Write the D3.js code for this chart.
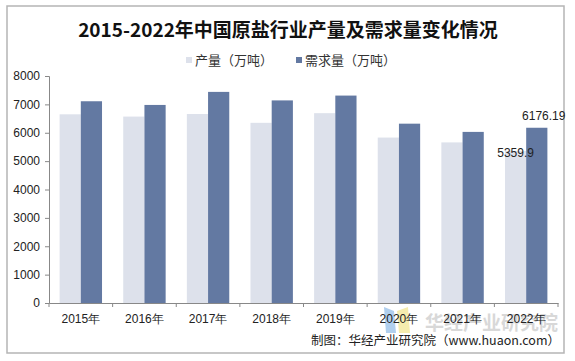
<!DOCTYPE html>
<html>
<head>
<meta charset="utf-8">
<script src="https://cdn.jsdelivr.net/npm/d3@7"></script>
<style>
  body { margin: 0; background: #fff; }
  svg { display: block; font-family: Arial, "Liberation Sans", "Noto Sans CJK SC", sans-serif; }
</style>
</head>
<body>
<svg id="chart" width="575" height="361"></svg>
<script>
const years = ["2015年", "2016年", "2017年", "2018年", "2019年", "2020年", "2021年", "2022年"];
const production = [6650, 6570, 6660, 6350, 6690, 5830, 5660, 5359.9];
const demand = [7110, 6980, 7440, 7140, 7310, 6320, 6030, 6176.19];
const yTicks = [0, 1000, 2000, 3000, 4000, 5000, 6000, 7000, 8000];
const seriesNames = ["产量（万吨）", "需求量（万吨）"];
const colors = ["#dde1eb", "#6379a2"];

const svg = d3.select("#chart");
const margin = { top: 76, right: 17, bottom: 58, left: 49 };
const width = 575, height = 361;
const chartWidth = width - margin.left - margin.right;
const chartHeight = height - margin.top - margin.bottom;

// outer frame
svg.append("rect")
    .attr("x", 7).attr("y", 6)
    .attr("width", 557).attr("height", 347)
    .attr("fill", "none")
    .attr("stroke", "#b5b5b5")
    .attr("stroke-width", 1.5);

// watermark (logo + name) drawn first so it stays behind
svg.append("polygon")
    .attr("points", "384,307 394,311 396,333 386,333")
    .attr("fill", "#9cc3ea").attr("opacity", 0.8);
svg.append("polygon")
    .attr("points", "397,311 408,307 410,333 399,333")
    .attr("fill", "#f3e79a").attr("opacity", 0.8);
svg.append("text")
    .attr("x", 558).attr("y", 330)
    .attr("text-anchor", "end")
    .style("font-family", "'Noto Sans CJK SC', sans-serif")
    .style("font-weight", "bold")
    .style("font-size", "19px")
    .attr("fill", "#cccccc")
    .attr("opacity", 0.75)
    .text("华经产业研究院");

// title
svg.append("text")
    .attr("x", 288).attr("y", 37)
    .attr("text-anchor", "middle")
    .style("font-family", "'Noto Sans CJK SC', sans-serif")
    .style("font-weight", "bold")
    .style("font-size", "19px")
    .attr("fill", "#111")
    .text("2015-2022年中国原盐行业产量及需求量变化情况");

// legend
const legendX = [186, 296];
seriesNames.forEach((name, i) => {
    svg.append("rect")
        .attr("x", legendX[i]).attr("y", 57)
        .attr("width", 6).attr("height", 6)
        .attr("fill", colors[i]);
    svg.append("text")
        .attr("x", legendX[i] + 9).attr("y", 65)
        .style("font-family", "'Noto Sans CJK SC', sans-serif")
        .style("font-size", "13px")
        .attr("fill", "#333")
        .text(name);
});

const g = svg.append("g")
    .attr("transform", `translate(${margin.left},${margin.top})`);

const x = d3.scaleBand()
    .domain(years)
    .range([0, chartWidth])
    .paddingInner(0)
    .paddingOuter(0);

const bandPad = x.bandwidth() / 6;
const x1 = d3.scaleBand()
    .domain([0, 1])
    .range([bandPad, x.bandwidth() - bandPad]);

const y = d3.scaleLinear()
    .domain([0, 8000])
    .range([chartHeight, 0]);

// bars
const groups = g.selectAll(".year")
    .data(years)
    .enter()
    .append("g")
    .attr("transform", d => `translate(${x(d)},0)`);

groups.append("rect")
    .attr("x", x1(0))
    .attr("width", x1.bandwidth())
    .attr("y", (d, i) => y(production[i]))
    .attr("height", (d, i) => chartHeight - y(production[i]))
    .attr("fill", colors[0]);

groups.append("rect")
    .attr("x", x1(1))
    .attr("width", x1.bandwidth())
    .attr("y", (d, i) => y(demand[i]))
    .attr("height", (d, i) => chartHeight - y(demand[i]))
    .attr("fill", colors[1]);

// data labels for last year
const last = years.length - 1;
g.append("text")
    .attr("x", x(years[last]) + x1(0) + x1.bandwidth() / 2)
    .attr("y", y(production[last]) + 6)
    .attr("text-anchor", "middle")
    .style("font-size", "12px")
    .attr("fill", "#222")
    .text(production[last]);

g.append("text")
    .attr("x", x(years[last]) + x1(1) + x1.bandwidth() / 2 + 7)
    .attr("y", y(demand[last]) - 8)
    .attr("text-anchor", "middle")
    .style("font-size", "12px")
    .attr("fill", "#222")
    .text(demand[last]);

// y axis
const yAxis = g.append("g")
    .call(d3.axisLeft(y).tickValues(yTicks).tickFormat(d3.format("d")).tickSize(4).tickPadding(5));
yAxis.selectAll("text").style("font-size", "12px").attr("fill", "#222");
yAxis.selectAll("line").attr("stroke", "#888");
yAxis.select(".domain").attr("stroke", "#888");

// x axis
const xAxis = g.append("g")
    .attr("transform", `translate(0,${chartHeight})`)
    .call(d3.axisBottom(x).tickSize(0).tickPadding(11));
xAxis.selectAll("text").style("font-size", "12px").attr("fill", "#222");
xAxis.select(".domain").attr("stroke", "#888");
xAxis.selectAll(".sep")
    .data(d3.range(years.length + 1))
    .enter()
    .append("line")
    .attr("x1", i => i * x.step())
    .attr("x2", i => i * x.step())
    .attr("y1", 0).attr("y2", 4)
    .attr("stroke", "#888");

// footer
svg.append("text")
    .attr("x", 560).attr("y", 345)
    .attr("text-anchor", "end")
    .style("font-family", "'Noto Sans CJK SC', sans-serif")
    .style("font-size", "12.5px")
    .attr("fill", "#222")
    .text("制图：华经产业研究院（www.huaon.com）");
</script>
</body>
</html>
